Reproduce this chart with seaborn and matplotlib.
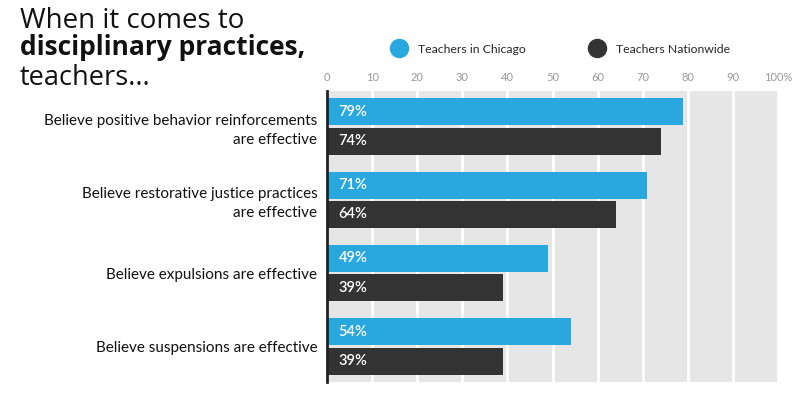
import pandas as pd
import seaborn as sns
import matplotlib.pyplot as plt
from matplotlib.lines import Line2D

categories = ["Believe positive behavior reinforcements\nare effective",
              "Believe restorative justice practices\nare effective",
              "Believe expulsions are effective",
              "Believe suspensions are effective"]
groups = ["Teachers in Chicago", "Teachers Nationwide"]
chicago = [79, 71, 49, 54]
nationwide = [74, 64, 39, 39]
ticks = [0, 10, 20, 30, 40, 50, 60, 70, 80, 90, 100]
tick_labels = ["0", "10", "20", "30", "40", "50", "60", "70", "80", "90", "100%"]
colors = ["#29a8e0", "#333333"]

df = pd.DataFrame({
    "label": categories * 2,
    "group": [groups[0]] * 4 + [groups[1]] * 4,
    "value": chicago + nationwide,
})

sns.set_style("white")
plt.rcParams["font.family"] = ["Lato", "DejaVu Sans"]

fig = plt.figure(figsize=(8, 3.96), dpi=100)
ax = fig.add_axes([0.40875, 0.0354, 0.56375, 0.7348])
ax.set_facecolor("#e6e6e6")

sns.barplot(data=df, y="label", x="value", hue="group", orient="h",
            palette=colors, width=0.8, gap=0.08, saturation=1, legend=False,
            linewidth=0, ax=ax)

ax.set_xlim(0, 100)
ax.set_ylim(3.484, -0.484)
ax.set_xticks(ticks)
ax.set_xticklabels(tick_labels)
ax.xaxis.tick_top()
ax.tick_params(axis="x", length=0, pad=6, labelsize=8, labelcolor="#999999")
ax.tick_params(axis="y", length=0, pad=7, labelsize=11, labelcolor="#111111")
for t in ax.get_yticklabels():
    t.set_multialignment("right")
    t.set_linespacing(1.45)
ax.set_xlabel("")
ax.set_ylabel("")
ax.grid(axis="x", color="white", linewidth=2)
ax.set_axisbelow(True)
for s in ["top", "right", "bottom"]:
    ax.spines[s].set_visible(False)
ax.spines["left"].set_color("#222222")
ax.spines["left"].set_linewidth(2)

# value labels inside bars
for cont, vals in zip(ax.containers, [chicago, nationwide]):
    for bar, v in zip(cont, vals):
        ax.text(2.6, bar.get_y() + bar.get_height() / 2, f"{v}%",
                color="white", fontsize=10.5, fontweight="semibold", va="center", ha="left")

# title
tfam = ["Open Sans", "DejaVu Sans"]
fig.text(0.025, 0.93, "When it comes to", fontsize=20, family=tfam, color="#111111", va="baseline")
fig.text(0.025, 0.86, "disciplinary practices,", fontsize=19, fontweight="bold", family=tfam, color="#111111", va="baseline")
fig.text(0.025, 0.785, "teachers...", fontsize=19.5, family=tfam, color="#111111", va="baseline")

handles = [Line2D([], [], marker="o", linestyle="", markersize=13, color=c) for c in colors]
fig.legend(handles, groups, loc="center left", bbox_to_anchor=(0.47, 0.876), ncol=2,
           frameon=False, fontsize=8.8, handletextpad=0.55, columnspacing=4.8)

fig.savefig("out.png", dpi=100)
